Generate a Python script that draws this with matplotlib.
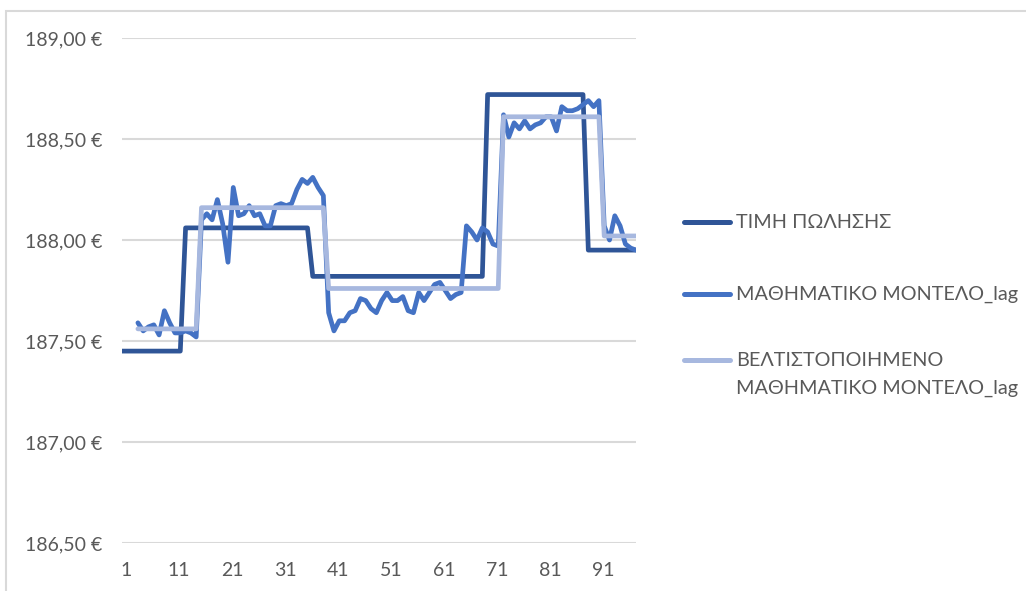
import matplotlib
matplotlib.use("Agg")
import matplotlib.pyplot as plt
from matplotlib.lines import Line2D
from matplotlib.patches import Rectangle
from matplotlib.ticker import FixedLocator, FuncFormatter
from matplotlib.transforms import ScaledTranslation
import numpy as np

plt.rcParams['font.family'] = ['Lato', 'Noto Sans', 'DejaVu Sans']

# sale price per period (step levels)
price = ([187.45] * 12 + [188.06] * 24 + [187.82] * 33 + [188.72] * 19
         + [187.95] * 10)
days = np.arange(1, len(price) + 1)

# model outputs start at period 4 (lag of 3)
model_days = np.arange(4, 99)
model_lag = [
    187.59, 187.55, 187.57, 187.58, 187.53, 187.65, 187.59, 187.54, 187.54,
    187.55, 187.54, 187.52, 188.10, 188.13, 188.10, 188.20, 188.08, 187.89,
    188.26, 188.12, 188.13, 188.17, 188.12, 188.13, 188.07, 188.07, 188.17,
    188.18, 188.17, 188.18, 188.25, 188.30, 188.28, 188.31, 188.26, 188.22,
    187.64, 187.55, 187.60, 187.60, 187.64, 187.65, 187.71, 187.70, 187.66,
    187.64, 187.70, 187.74, 187.70, 187.70, 187.72, 187.65, 187.64, 187.74,
    187.70, 187.74, 187.78, 187.79, 187.75, 187.71, 187.73, 187.74, 188.07,
    188.04, 188.00, 188.06, 188.04, 187.98, 187.97, 188.62, 188.51, 188.58,
    188.55, 188.59, 188.55, 188.57, 188.58, 188.61, 188.61, 188.54, 188.66,
    188.64, 188.64, 188.65, 188.67, 188.69, 188.66, 188.69, 188.07, 188.00,
    188.12, 188.07, 187.98, 187.96, 187.95,
]
optimized_lag = ([187.56] * 12 + [188.16] * 24 + [187.76] * 33 + [188.61] * 19
                 + [188.02] * 7)

labels = ['ΤΙΜΗ ΠΩΛΗΣΗΣ', 'ΜΑΘΗΜΑΤΙΚΟ ΜΟΝΤΕΛΟ_lag',
          'ΒΕΛΤΙΣΤΟΠΟΙΗΜΕΝΟ\nΜΑΘΗΜΑΤΙΚΟ ΜΟΝΤΕΛΟ_lag']
colors = ['#2F5597', '#4472C4', '#A7B8DF']
text_gray = '#595959'

W, H = 1026, 591
fig = plt.figure(figsize=(W / 100, H / 100), dpi=100)
ax = fig.add_axes([122 / W, 1 - 543 / H, (636 - 122) / W, (543 - 38) / H])

lw = 3.4
style = dict(lw=lw, solid_joinstyle='round', solid_capstyle='round')
ax.plot(days, price, color=colors[0], **style)
ax.plot(model_days, model_lag, color=colors[1], **style)
ax.plot(model_days, optimized_lag, color=colors[2], **style)

ax.set_xlim(1, 98)
ax.set_ylim(186.5, 189.0)
ax.xaxis.set_major_locator(FixedLocator(np.arange(1, 98, 10)))
ax.yaxis.set_major_locator(FixedLocator(np.arange(186.5, 189.01, 0.5)))
ax.yaxis.set_major_formatter(
    FuncFormatter(lambda v, p: f"{v:.2f}".replace('.', ',') + " €"))
ax.grid(axis='y', color='#D9D9D9', lw=1.5)
ax.set_axisbelow(True)
for s in ax.spines.values():
    s.set_visible(False)
ax.tick_params(length=0, labelsize=14, labelcolor=text_gray)
ax.tick_params(axis='y', pad=14)
ax.tick_params(axis='x', pad=14)
shift = ScaledTranslation(4 / 100, 0, fig.dpi_scale_trans)
for lab in ax.get_xticklabels():
    lab.set_transform(lab.get_transform() + shift)

# legend on the right, handle level with the first text line
entry_rows = [[222], [294], [360, 388]]
for label, color, rows in zip(labels, colors, entry_rows):
    fy = 1 - rows[0] / H
    fig.add_artist(Line2D([684 / W, 730 / W], [fy, fy], color=color,
                          lw=3.6, solid_capstyle='round',
                          transform=fig.transFigure))
    for text, y in zip(label.split('\n'), rows):
        fig.text(736 / W, 1 - y / H, text, va='center', ha='left',
                 fontsize=14.3, color=text_gray)

# chart frame
fig.patches.append(Rectangle((6 / W, -0.1), 1.2, 1 - 11 / H + 0.1,
                             transform=fig.transFigure, fill=False,
                             edgecolor='#D9D9D9', lw=1.5))

fig.savefig('out.png', dpi=100)
